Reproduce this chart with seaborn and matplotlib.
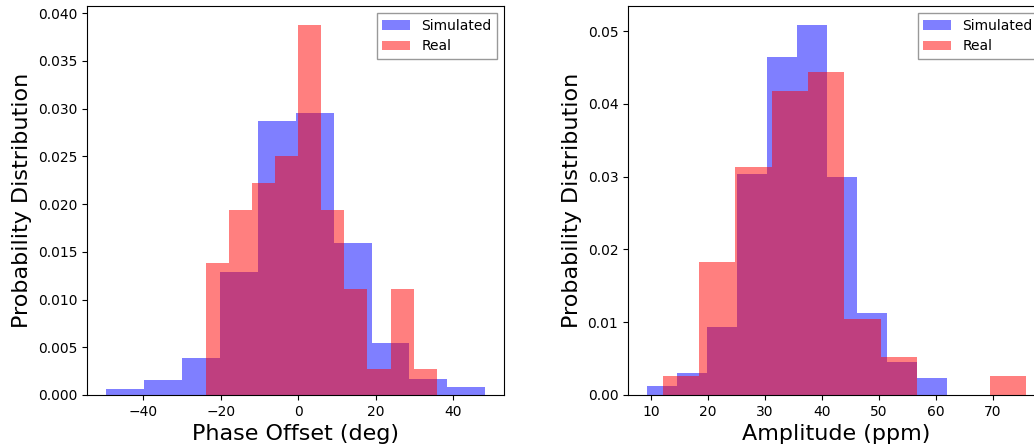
import matplotlib.pyplot as plt
import numpy as np
import pandas as pd
import seaborn as sns

# Phase offset histograms (density values)
phase_sim_edges = [-49.7, -39.9, -30.1, -20.3, -10.5, -0.7, 9.2, 19.0, 28.7, 38.5, 48.3]
phase_sim_density = [0.00066, 0.00157, 0.00386, 0.01283, 0.0287, 0.02953, 0.01597, 0.00543, 0.00167, 0.00083]
phase_real_edges = [-23.9, -17.9, -11.9, -6.0, 0.0, 6.0, 11.9, 17.9, 23.9, 29.9, 35.85]
phase_real_density = [0.01385, 0.0194, 0.0222, 0.0250, 0.0388, 0.0194, 0.0111, 0.00276, 0.0111, 0.00276]

# Amplitude histograms
amp_sim_edges = [9.24, 14.51, 19.78, 25.05, 30.32, 35.59, 40.86, 46.13, 51.4, 56.67, 61.94]
amp_sim_density = [0.00124, 0.00307, 0.00935, 0.0303, 0.0465, 0.0509, 0.0300, 0.01123, 0.00458, 0.00234]
amp_real_edges = [11.99, 18.38, 24.77, 31.16, 37.55, 43.94, 50.33, 56.72, 63.11, 69.5, 75.87]
amp_real_density = [0.00261, 0.01826, 0.0313, 0.04173, 0.04434, 0.01043, 0.00522, 0.0, 0.0, 0.00261]


def draw_hist(ax, edges, density, color, label):
    e = np.array(edges)
    df = pd.DataFrame({'x': (e[:-1] + e[1:]) / 2, 'w': density})
    sns.histplot(data=df, x='x', weights='w', bins=list(edges), stat='count', color=color,
                 alpha=0.5, linewidth=0, label=label, ax=ax)


fig = plt.figure(figsize=(10.34, 4.47), dpi=100)
ax1 = fig.add_axes([87 / 1034, 52 / 447, 417 / 1034, 389 / 447])
ax2 = fig.add_axes([628 / 1034, 52 / 447, 417 / 1034, 389 / 447])

draw_hist(ax1, phase_sim_edges, phase_sim_density, 'blue', 'Simulated')
draw_hist(ax1, phase_real_edges, phase_real_density, 'red', 'Real')
ax1.set_xlabel('Phase Offset (deg)', fontsize=16)
ax1.set_ylabel('Probability Distribution', fontsize=16)
ax1.set_xticks([-40, -20, 0, 20, 40])
ax1.set_yticks(np.arange(0, 0.0401, 0.005))
ax1.yaxis.set_major_formatter(plt.FormatStrFormatter('%.3f'))

draw_hist(ax2, amp_sim_edges, amp_sim_density, 'blue', 'Simulated')
draw_hist(ax2, amp_real_edges, amp_real_density, 'red', 'Real')
ax2.set_xlabel('Amplitude (ppm)', fontsize=16)
ax2.set_ylabel('Probability Distribution', fontsize=16)
ax2.set_xticks([10, 20, 30, 40, 50, 60, 70])
ax2.set_yticks(np.arange(0, 0.0501, 0.01))
ax2.yaxis.set_major_formatter(plt.FormatStrFormatter('%.2f'))

for ax in (ax1, ax2):
    ax.margins(x=0.05, y=0.05)
    ax.autoscale_view()
    ax.set_ylim(bottom=0)
    ax.tick_params(labelsize=10)
    leg = ax.legend(loc='upper right', fancybox=False, fontsize=10)
    leg.get_frame().set_edgecolor('gray')

fig.savefig('out.png', dpi=100)
